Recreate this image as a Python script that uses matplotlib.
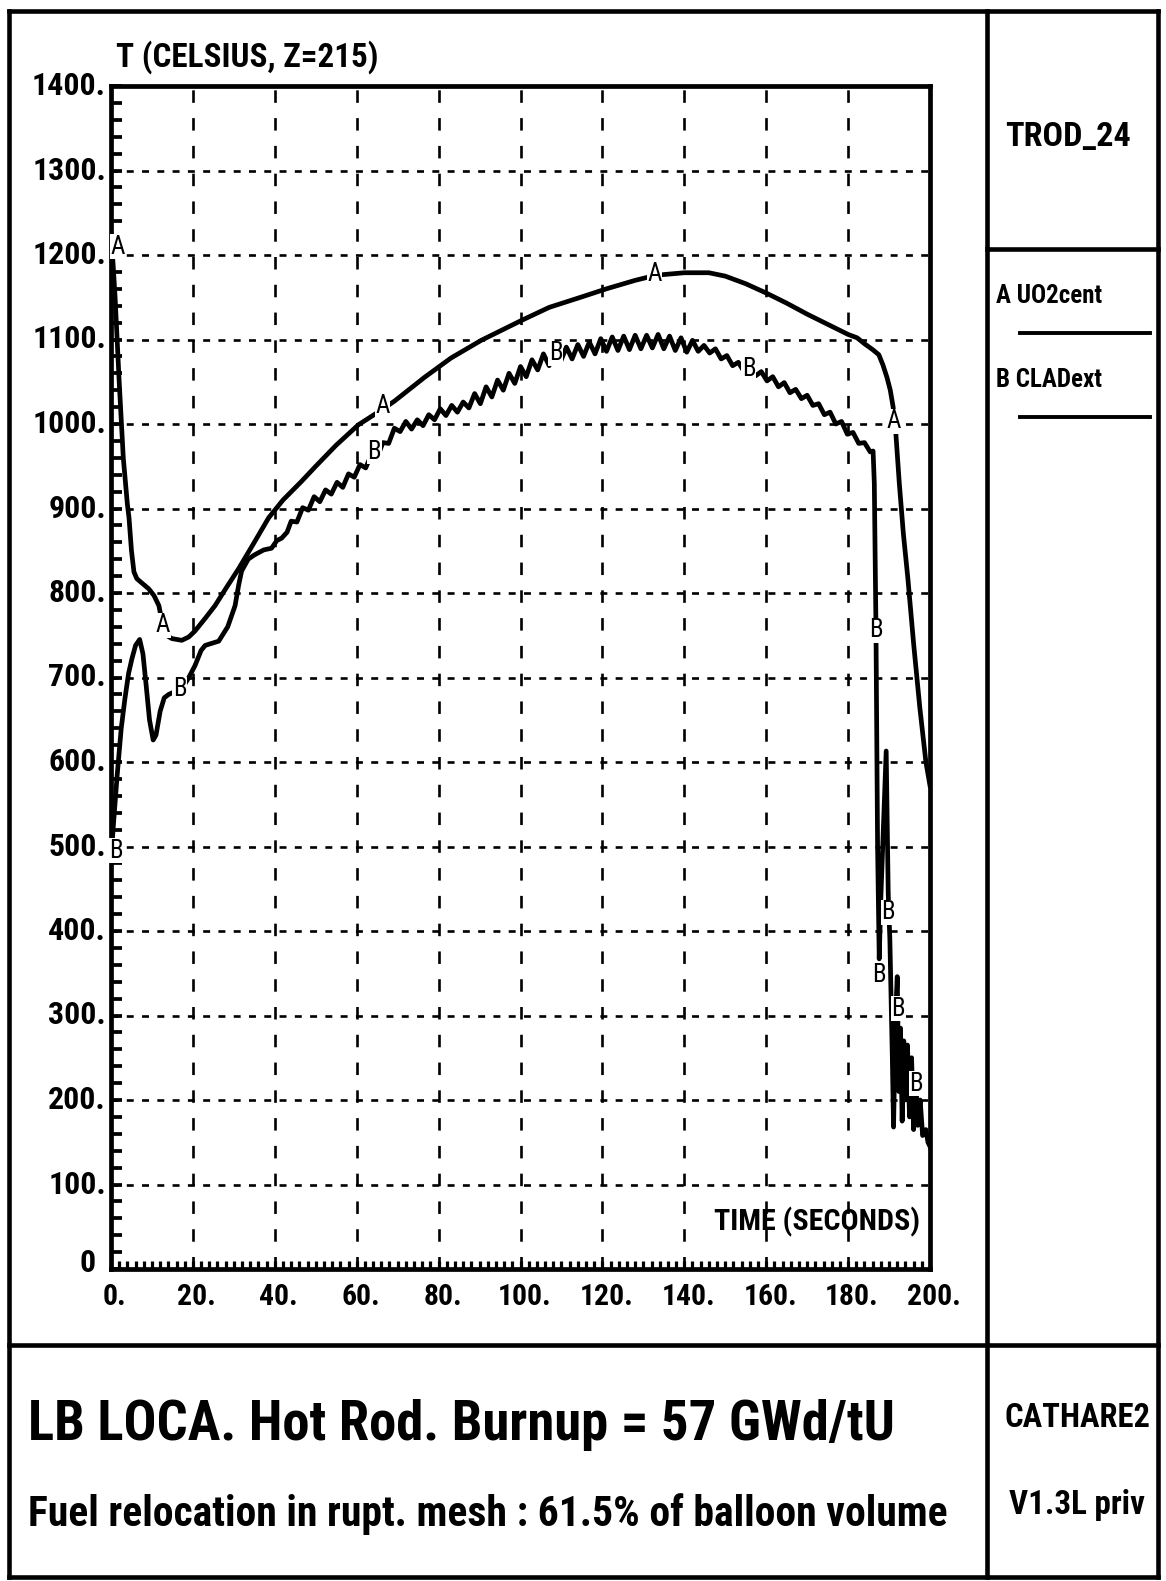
import matplotlib
matplotlib.use("Agg")
import matplotlib.pyplot as plt
import matplotlib.font_manager as fm
from matplotlib.lines import Line2D
import numpy as np

plt.rcParams['lines.scale_dashes'] = False

# pick the narrowest installed sans family
_names = {f.name for f in fm.fontManager.ttflist}
_cond = [f for f in fm.fontManager.ttflist
         if f.name == 'DejaVu Sans' and 'condensed' in str(f.stretch)]
if 'Liberation Sans Narrow' in _names:
    FAM, STRETCH = 'Liberation Sans Narrow', 'normal'
elif 'Roboto Condensed' in _names:
    FAM, STRETCH = 'Roboto Condensed', 'normal'
elif _cond:
    FAM, STRETCH = 'DejaVu Sans', 'condensed'
else:
    FAM, STRETCH = 'DejaVu Sans', 'normal'
FONT = [FAM, 'DejaVu Sans']
plt.rcParams['font.family'] = FONT

# ---------------- data ----------------
a_time = [0, 0.5, 1.0, 2.0, 3.0, 4.0, 4.4, 5.0, 5.6, 6.3, 7.5, 9.2, 10.5, 11.7, 12.5,
          13.5, 14.9, 17.3, 19.0, 20.5, 23.0, 25.4, 28.0, 31.2, 35.0, 38.5, 42.0, 46.5,
          50.0, 55.0, 60.4, 66.8, 69.2, 76.5, 83.0, 90.4, 100.0, 107.0, 114.7, 121.0,
          128.0, 133.0, 140.0, 146.0, 150.0, 155.0, 160.0, 165.0, 170.0, 175.0, 180.0,
          182.2, 184.0, 186.0, 187.5, 188.5, 189.5, 190.3, 191.0, 191.5, 192.5, 193.5,
          194.6, 196.0, 197.5, 199.0, 200.0]
a_temp = [1225, 1190, 1150, 1050, 960, 905, 889, 850, 825, 817, 812, 805, 797, 785, 765,
          750, 746, 744, 748, 755, 770, 785, 805, 829, 860, 889, 910, 932,
          950, 975, 999, 1019, 1027, 1055, 1078, 1099, 1122, 1138, 1150, 1160,
          1170, 1176, 1179, 1179, 1175, 1166, 1155, 1143, 1130, 1118, 1106,
          1102, 1095, 1088, 1082, 1070, 1055, 1040, 1020, 1000, 930, 870,
          817, 740, 665, 600, 572]

b_time = [0, 0.5, 1.5, 2.5, 3.4, 4.3, 5.1, 6.0, 7.0, 7.8, 8.6, 9.4, 10.3, 11.0, 12.0,
          13.0, 14.1, 15.5, 17.5, 19.0, 20.5, 22.0, 23.0, 26.3, 28.5, 30.3, 31.2, 31.9,
          33.5, 35.0, 37.3, 39.2, 40.5, 41.7, 43.0,
          44.0, 45.4, 46.8, 48.2, 49.6, 51.0, 52.4, 53.8, 55.2, 56.6, 58.0, 59.4, 60.8,
          62.2, 63.6, 65.0, 66.4, 67.8, 69.2, 70.6, 72.0, 73.4, 74.8, 76.2, 77.6, 79.0,
          80.4, 81.8, 83.2, 84.6, 86.0, 87.4, 88.8, 90.2, 91.6, 93.0, 94.4, 95.8, 97.2,
          98.6, 100.0, 101.4, 102.8, 104.2, 105.6, 107.0, 108.4, 109.8, 111.2, 112.6,
          114.0, 115.4, 116.8, 118.2, 119.6, 121.0, 122.4, 123.8, 125.2, 126.6, 128.0,
          129.4, 130.8, 132.2, 133.6, 135.0, 136.4, 137.8, 139.2, 140.6, 142.0, 143.4,
          144.8, 146.2, 147.6, 149.0, 150.4, 151.8, 153.2, 154.6, 156.0, 157.4, 158.8,
          160.2, 161.6, 163.0, 164.4, 165.8, 167.2, 168.6, 170.0, 171.4, 172.8, 174.2,
          175.6, 177.0, 178.4, 179.8, 181.2, 182.6, 184.0, 185.4, 186.1,
          186.4, 186.8, 187.2, 187.6, 188.0, 188.6, 189.3, 189.8, 190.2, 190.8, 191.1,
          191.6, 192.0, 192.4, 192.8, 193.2, 193.6, 194.0, 194.5, 195.0, 195.5, 196.0,
          196.5, 197.0, 197.6, 198.2, 199.0, 199.5, 200.0]
b_temp = [480, 520, 584, 640, 675, 705, 722, 738, 745, 728, 690, 650, 626, 632, 660,
          676, 680, 683, 688, 700, 714, 732, 738, 743, 760, 785, 810, 826,
          840, 845, 851, 853, 862, 865, 872,
          885, 884, 901, 898, 914, 908, 922, 917, 931, 925, 941, 937, 952,
          948, 964, 960, 978, 977, 995, 991, 1003, 994, 1005, 998, 1011, 1005,
          1018, 1010, 1022, 1014, 1026, 1019, 1036, 1024, 1044, 1032, 1052, 1040, 1060,
          1048, 1068, 1056, 1076, 1064, 1083, 1069, 1088, 1074, 1091, 1077,
          1094, 1080, 1097, 1083, 1101, 1086, 1103, 1087, 1104, 1088, 1105,
          1089, 1105, 1090, 1106, 1089, 1104, 1087, 1102, 1085, 1099, 1086,
          1093, 1084, 1089, 1077, 1081, 1069, 1073, 1062, 1068, 1057, 1062,
          1051, 1056, 1044, 1049, 1037, 1041, 1030, 1034, 1022, 1024, 1011,
          1014, 1000, 1003, 988, 990, 977, 978, 967, 968,
          930, 760, 500, 367, 440, 520, 613, 444, 390, 250, 168,
          300, 346, 210, 285, 175, 270, 200, 265, 180, 250, 165,
          230, 170, 200, 158, 165, 150, 145]

a_label_time = [1.7, 12.7, 66.3, 132.7, 191.2]
a_label_temp = [1210, 762, 1021, 1177, 1003]
b_label_time = [1.2, 16.8, 64.3, 108.6, 155.7, 186.8, 187.6, 189.7, 192.2, 196.6]
b_label_temp = [495, 686, 967, 1084, 1065, 756, 348, 422, 308, 219]

x_ticks = [0, 20, 40, 60, 80, 100, 120, 140, 160, 180, 200]
x_tick_labels = ['0.', '20.', '40.', '60.', '80.', '100.', '120.', '140.', '160.', '180.', '200.']
y_ticks = [0, 100, 200, 300, 400, 500, 600, 700, 800, 900, 1000, 1100, 1200, 1300, 1400]
y_tick_labels = ['0', '100.', '200.', '300.', '400.', '500.', '600.', '700.', '800.',
                 '900.', '1000.', '1100.', '1200.', '1300.', '1400.']

legend_labels = ['A UO2cent', 'B CLADext']
title_line1 = 'LB LOCA. Hot Rod. Burnup = 57 GWd/tU'
title_line2 = 'Fuel relocation in rupt. mesh : 61.5% of balloon volume'

# ---------------- figure ----------------
W, H = 1166, 1581
fig = plt.figure(figsize=(W / 100, H / 100), dpi=100)
renderer = fig.canvas.get_renderer()


def fx(x):
    return x / W


def fy(y):
    return 1 - y / H


def fitted_size(s, target_w, max_fs, weight='bold'):
    t = fig.text(0, 0, s, fontsize=max_fs, fontweight=weight, family=FONT,
                 fontstretch=STRETCH)
    w = t.get_window_extent(renderer).width
    t.remove()
    return max_fs if w <= target_w else max_fs * target_w / w


def put(x, y, s, fs, ha='left', va='center', weight='bold'):
    return fig.text(fx(x), fy(y), s, ha=ha, va=va, fontsize=fs, fontweight=weight,
                    family=FONT, fontstretch=STRETCH)


def hline(x0, x1, y, lw=3.3):
    fig.add_artist(Line2D([fx(x0), fx(x1)], [fy(y), fy(y)], color='black', lw=lw,
                          solid_capstyle='projecting'))


def vline(x, y0, y1, lw=3.3):
    fig.add_artist(Line2D([fx(x), fx(x)], [fy(y0), fy(y1)], color='black', lw=lw,
                          solid_capstyle='projecting'))


L, R, T, B = 9, 1158, 11, 1577
XD, YD, YR = 987, 1345, 249
hline(L, R, T)
hline(L, R, B)
vline(L, T, B)
vline(R, T, B)
vline(XD, T, B)
hline(L, R, YD)
hline(XD, R, YR)

# axes
ax_l, ax_r, ax_t, ax_b = 111, 930, 86, 1269
ax = fig.add_axes([fx(ax_l), fy(ax_b), (ax_r - ax_l) / W, (ax_b - ax_t) / H])
ax.set_xlim(0, 200)
ax.set_ylim(0, 1400)
for s in ax.spines.values():
    s.set_linewidth(3.4)

# grid
for xv in x_ticks[1:-1]:
    ax.axvline(xv, color='black', lw=1.9, linestyle=(0, (9, 11)), zorder=1)
for yv in y_ticks[1:-1]:
    ax.axhline(yv, color='black', lw=1.9, linestyle=(0, (5, 6)), zorder=1)

ax.plot(a_time, a_temp, color='black', lw=3.4, zorder=3, solid_joinstyle='round')
ax.plot(b_time, b_temp, color='black', lw=3.4, zorder=3, solid_joinstyle='round')

for t, v in zip(a_label_time, a_label_temp):
    ax.text(t, v, 'A', ha='center', va='center', fontsize=18, family=FONT,
            fontstretch=STRETCH, zorder=4,
            bbox=dict(facecolor='white', edgecolor='none', pad=0.3))
for t, v in zip(b_label_time, b_label_temp):
    ax.text(t, v, 'B', ha='center', va='center', fontsize=18, family=FONT,
            fontstretch=STRETCH, zorder=4,
            bbox=dict(facecolor='white', edgecolor='none', pad=0.3))

# ticks
ax.set_xticks(np.arange(0, 201, 2))
ax.set_yticks(np.arange(0, 1401, 20))
ax.tick_params(axis='x', direction='in', length=6, width=2.3, labelbottom=False)
ax.tick_params(axis='y', direction='in', length=8, width=2.7, labelleft=False)

ytick_fs = fitted_size('1400.', 74, 28)
xtick_fs = fitted_size('100.', 54, 28)
for xv, lab in zip(x_ticks, x_tick_labels):
    px = ax_l + (ax_r - ax_l) * xv / 200
    put(px + 4, 1297, lab, xtick_fs, ha='center')
for yv, lab in zip(y_ticks, y_tick_labels):
    py = ax_b - (ax_b - ax_t) * yv / 1400
    if yv == 0:
        put(96, py - 6, lab, ytick_fs, ha='right')
    else:
        put(106, py, lab, ytick_fs, ha='right')

put(116, 57, 'T (CELSIUS, Z=215)', fitted_size('T (CELSIUS, Z=215)', 262, 28))
put(920, 1222, 'TIME (SECONDS)', fitted_size('TIME (SECONDS)', 206, 28), ha='right')

# right panel
put(1068, 137, 'TROD_24', fitted_size('TROD_24', 126, 32), ha='center')
leg_fs = min(fitted_size(legend_labels[0], 106, 22), fitted_size(legend_labels[1], 106, 22))
put(996, 296, legend_labels[0], leg_fs)
put(996, 380, legend_labels[1], leg_fs)
hline(1020, 1150, 333, lw=2.8)
hline(1020, 1150, 417, lw=2.8)

# bottom panel
put(28, 1425, title_line1, fitted_size(title_line1, 868, 44))
put(28, 1514, title_line2, fitted_size(title_line2, 932, 30))
put(1077, 1418, 'CATHARE2', fitted_size('CATHARE2', 146, 28), ha='center')
put(1077, 1505, 'V1.3L priv', fitted_size('V1.3L priv', 136, 24), ha='center')

fig.savefig('out.png', dpi=100, facecolor='white')
